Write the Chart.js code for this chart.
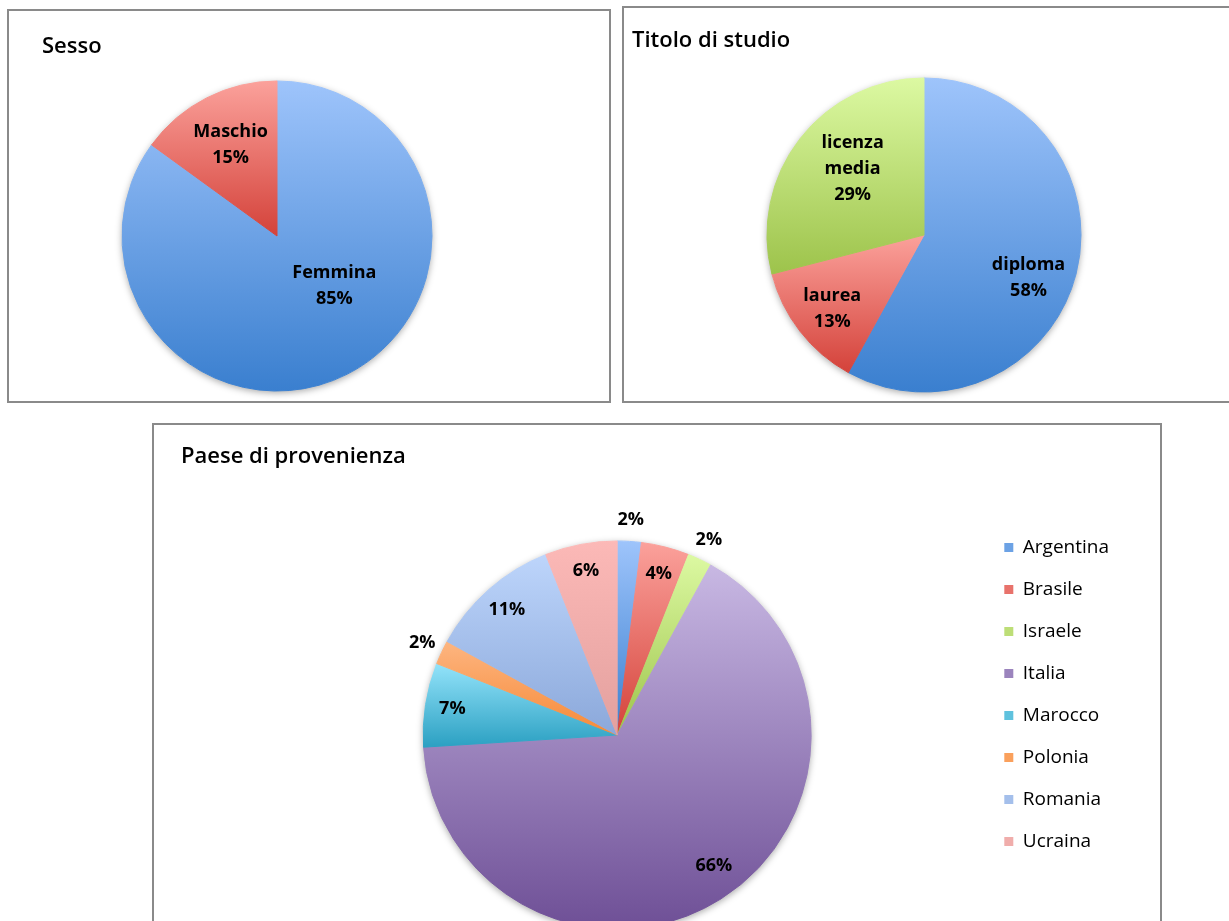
<!DOCTYPE html>
<html lang="it">
<head>
<meta charset="utf-8">
<title>Sesso, titolo di studio, paese di provenienza</title>
<script src="https://cdn.jsdelivr.net/npm/chart.js@4.4.1/dist/chart.umd.min.js"></script>
<style>
  html, body { margin: 0; padding: 0; background: #fff; overflow: hidden; }
  body { width: 1229px; height: 921px; position: relative; }
  .box { position: absolute; box-sizing: border-box; border: 2px solid #8a8a8a; background: #fff; }
  .box canvas { display: block; }
  #box-sesso { left: 7px; top: 9px; width: 604px; height: 394px; }
  #box-titolo { left: 622px; top: 6px; width: 640px; height: 397px; }
  #box-paese { left: 152px; top: 423px; width: 1010px; height: 534px; }
</style>
</head>
<body>
<div class="box" id="box-sesso"><canvas id="chart-sesso" width="600" height="390"></canvas></div>
<div class="box" id="box-titolo"><canvas id="chart-titolo" width="636" height="393"></canvas></div>
<div class="box" id="box-paese"><canvas id="chart-paese" width="1006" height="530"></canvas></div>

<script>
// --- data (percentuali) ---
const SESSO_CATEGORIES = ['Femmina', 'Maschio'];
const SESSO_VALUES = [85, 15];

const TITOLO_CATEGORIES = ['diploma', 'laurea', 'licenza media'];
const TITOLO_VALUES = [58, 13, 29];

const PAESE_CATEGORIES = ['Argentina', 'Brasile', 'Israele', 'Italia', 'Marocco', 'Polonia', 'Romania', 'Ucraina'];
const PAESE_VALUES = [2, 4, 2, 66, 7, 2, 11, 6];

// top / bottom colour of each slice gradient (office 2007 look)
const SHADES = {
    blue: ['#9ec4fb', '#3a7fcf'],
    red: ['#fba19b', '#d4423a'],
    green: ['#dcf9a2', '#9dc34b'],
    purple: ['#c8b8e3', '#6e4f96'],
    aqua: ['#93e3fa', '#2ba0c2'],
    orange: ['#fdb580', '#f68a38'],
    paleBlue: ['#bdd5fb', '#8ba8da'],
    paleRed: ['#fcb9b7', '#e3a09e']
};

const FONT = "'Open Sans', 'DejaVu Sans', sans-serif";

function mix(a, b) {
    const pa = parseInt(a.slice(1), 16), pb = parseInt(b.slice(1), 16);
    const ch = (p, s) => (p >> s) & 255;
    const m = s => Math.round((ch(pa, s) + ch(pb, s)) / 2);
    return `rgb(${m(16)}, ${m(8)}, ${m(0)})`;
}

// vertical span of one pie slice, so each slice gets its own gradient
function sliceExtent(arc) {
    const r = arc.outerRadius;
    const ys = [arc.y, arc.y + r * Math.sin(arc.startAngle), arc.y + r * Math.sin(arc.endAngle)];
    [-Math.PI / 2, Math.PI / 2, 3 * Math.PI / 2].forEach(a => {
        if (a >= arc.startAngle - 1e-6 && a <= arc.endAngle + 1e-6) ys.push(arc.y + r * Math.sin(a));
    });
    return [Math.min(...ys), Math.max(...ys)];
}

const pieDecor = {
    id: 'pieDecor',
    beforeDatasetsDraw(chart, args, opts) {
        const ctx = chart.ctx;
        const arcs = chart.getDatasetMeta(0).data;
        if (!arcs.length) return;
        const { x, y, outerRadius } = arcs[0];

        // soft shadow round the pie
        ctx.save();
        ctx.shadowColor = 'rgba(0, 0, 0, 0.35)';
        ctx.shadowBlur = 7;
        ctx.shadowOffsetY = 2;
        ctx.beginPath();
        ctx.arc(x, y, outerRadius, 0, Math.PI * 2);
        ctx.fillStyle = '#fff';
        ctx.fill();
        ctx.restore();

        arcs.forEach((arc, i) => {
            const [top, bottom] = opts.shades[i];
            const [y0, y1] = sliceExtent(arc);
            const g = ctx.createLinearGradient(0, y0, 0, y1);
            g.addColorStop(0, top);
            g.addColorStop(1, bottom);
            arc.options.backgroundColor = g;
            arc.options.borderColor = g;
            arc.options.borderWidth = 1;
        });
    },
    afterDatasetsDraw(chart, args, opts) {
        const ctx = chart.ctx;
        const arcs = chart.getDatasetMeta(0).data;
        const data = chart.data.datasets[0].data;
        const total = data.reduce((s, v) => s + v, 0);

        ctx.save();
        ctx.fillStyle = '#000';

        // chart title
        ctx.font = `600 ${opts.titleSize}px ${FONT}`;
        ctx.textAlign = 'left';
        ctx.textBaseline = 'alphabetic';
        ctx.fillText(opts.title, opts.titleX, opts.titleY);

        // data labels
        ctx.font = `bold 18px ${FONT}`;
        ctx.textAlign = 'center';
        ctx.textBaseline = 'middle';
        arcs.forEach((arc, i) => {
            const pct = Math.round(data[i] / total * 100);
            const place = opts.place(pct, i);
            const ang = (arc.startAngle + arc.endAngle) / 2 + place.turn * Math.PI / 180;
            const rr = place.frac * arc.outerRadius;
            const px = arc.x + Math.cos(ang) * rr;
            const py = arc.y + Math.sin(ang) * rr;
            const lines = opts.showName ? chart.data.labels[i].split(' ') : [];
            lines.push(pct + '%');
            const lh = 26;
            lines.forEach((t, k) => {
                ctx.fillText(t, px, py + (k - (lines.length - 1) / 2) * lh);
            });
        });
        ctx.restore();
    }
};

function makePie(id, labels, values, shades, cfg) {
    return new Chart(document.getElementById(id), {
        type: 'pie',
        data: {
            labels,
            datasets: [{
                data: values,
                backgroundColor: shades.map(s => mix(s[0], s[1])),
                borderWidth: 0,
                hoverOffset: 0,
                radius: cfg.radius
            }]
        },
        options: {
            responsive: false,
            animation: false,
            events: [],
            layout: { padding: cfg.padding },
            plugins: {
                legend: cfg.legend || { display: false },
                tooltip: { enabled: false },
                pieDecor: Object.assign({ shades }, cfg.decor)
            }
        },
        plugins: [pieDecor]
    });
}

makePie('chart-sesso', SESSO_CATEGORIES, SESSO_VALUES, [SHADES.blue, SHADES.red], {
    radius: 155,
    padding: { left: 100, right: 164, top: 70, bottom: 10 },
    decor: {
        title: 'Sesso', titleSize: 22, titleX: 33, titleY: 42,
        showName: true,
        place: (pct, i) => [{ frac: 0.49, turn: -22 }, { frac: 0.66, turn: 0 }][i]
    }
});

makePie('chart-titolo', TITOLO_CATEGORIES, TITOLO_VALUES, [SHADES.blue, SHADES.red, SHADES.green], {
    radius: 157,
    padding: { left: 100, right: 136, top: 61, bottom: 0 },
    decor: {
        title: 'Titolo di studio', titleSize: 22, titleX: 8, titleY: 39,
        showName: true,
        place: (pct, i) => [{ frac: 0.72, turn: 8 }, { frac: 0.75, turn: -1 }, { frac: 0.62, turn: 5 }][i]
    }
});

makePie('chart-paese', PAESE_CATEGORIES, PAESE_VALUES,
    [SHADES.blue, SHADES.red, SHADES.green, SHADES.purple, SHADES.aqua, SHADES.orange, SHADES.paleBlue, SHADES.paleRed], {
    radius: 194,
    padding: { left: 99, right: 41, top: 90, bottom: 0 },
    legend: {
        display: true,
        position: 'right',
        align: 'start',
        labels: {
            color: '#000',
            font: { family: FONT, size: 19 },
            boxWidth: 9,
            boxHeight: 9,
            padding: 23
        }
    },
    decor: {
        title: 'Paese di provenienza', titleSize: 22, titleX: 27, titleY: 38,
        showName: false,
        // small slices get their label outside the pie
        place: (pct, i) => pct < 3 ? { frac: 1.11, turn: 0 } : (i === 3 ? { frac: 0.84, turn: -4 } : { frac: 0.86, turn: 0 })
    }
});
</script>
</body>
</html>
